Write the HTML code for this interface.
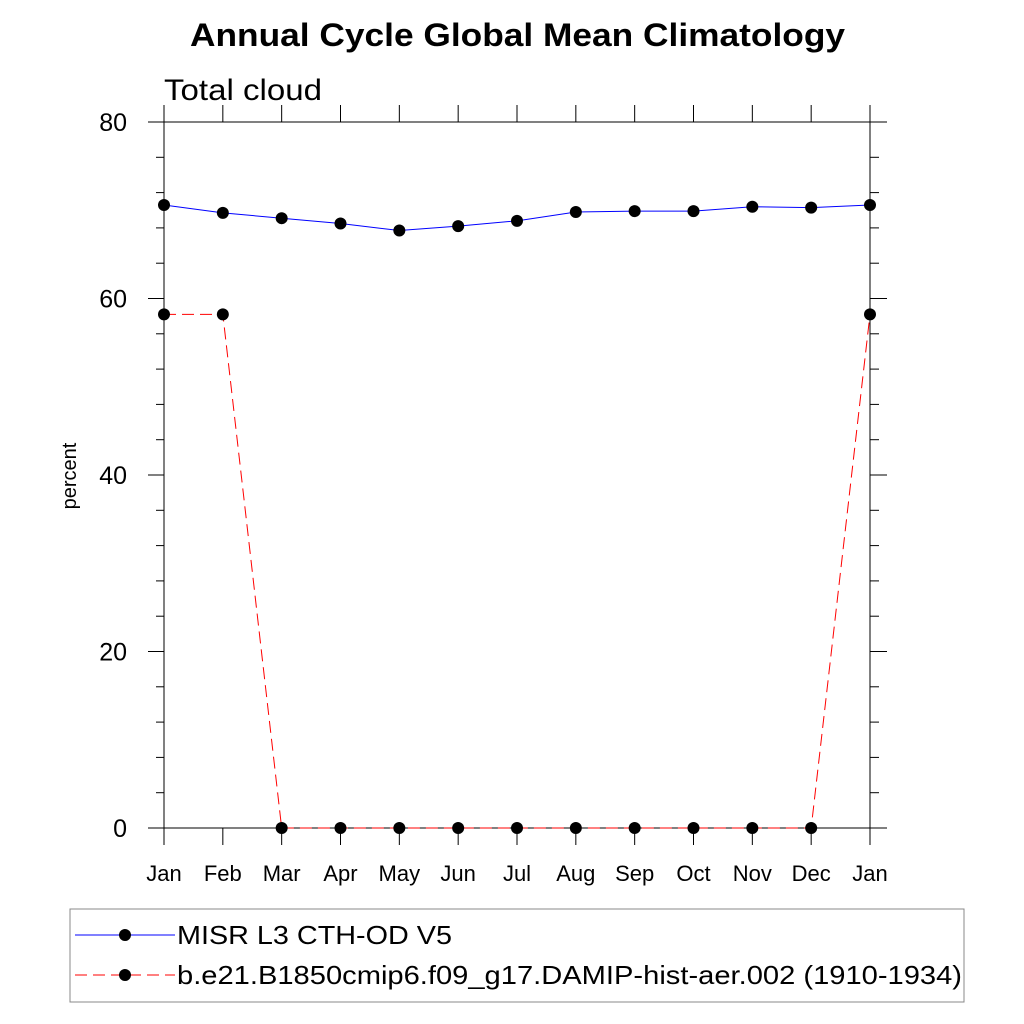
<!DOCTYPE html>
<html><head><meta charset="utf-8"><style>
body{margin:0;background:#fff;}
svg{display:block;font-family:"Liberation Sans",sans-serif;}
</style></head><body>
<svg id="chart" width="1024" height="1024" viewBox="0 0 1024 1024">
<text x="190" y="46" font-size="32" font-weight="bold" textLength="655" lengthAdjust="spacingAndGlyphs">Annual Cycle Global Mean Climatology</text>
<text x="164" y="100" font-size="30" textLength="158" lengthAdjust="spacingAndGlyphs">Total cloud</text>
<text transform="translate(76,476) rotate(-90)" text-anchor="middle" font-size="20">percent</text>
<g id="axes"></g>
<g id="series"></g>
<rect x="70" y="909" width="894" height="93" fill="none" stroke="#888" stroke-width="1"/>
<g>
<line x1="75" y1="935" x2="175" y2="935" stroke="#00f" stroke-width="1"/>
<circle cx="125" cy="935" r="6" fill="#000"/>
<text x="177" y="944" font-size="26" textLength="275" lengthAdjust="spacingAndGlyphs">MISR L3 CTH-OD V5</text>
</g>
<g>
<line x1="75" y1="975" x2="175" y2="975" stroke="#f00" stroke-width="1" stroke-dasharray="12,6"/>
<circle cx="125" cy="975" r="6" fill="#000"/>
<text x="177" y="984" font-size="26" textLength="785" lengthAdjust="spacingAndGlyphs">b.e21.B1850cmip6.f09_g17.DAMIP-hist-aer.002 (1910-1934)</text>
</g>
</svg>
<script>
const months=["Jan","Feb","Mar","Apr","May","Jun","Jul","Aug","Sep","Oct","Nov","Dec","Jan"];
const misr=[70.6,69.7,69.1,68.5,67.7,68.2,68.8,69.8,69.9,69.9,70.4,70.3,70.6];
const model=[58.2,58.2,0,0,0,0,0,0,0,0,0,0,58.2];
const yTicks=[0,20,40,60,80];
const NS="http://www.w3.org/2000/svg";
const X0=164,X1=870,Y0=828,Y1=122,YMAX=80;
const xs=i=>X0+(X1-X0)*i/(months.length-1);
const ys=v=>Y0-(Y0-Y1)*v/YMAX;
function mk(tag,attrs,parent){const e=document.createElementNS(NS,tag);for(const k in attrs)e.setAttribute(k,attrs[k]);parent.appendChild(e);return e;}
const ax=document.getElementById('axes');
const L={stroke:"#000","stroke-width":1};
mk('line',Object.assign({x1:X0,y1:Y0,x2:X1,y2:Y0},L),ax);
mk('line',Object.assign({x1:X0,y1:Y1,x2:X1,y2:Y1},L),ax);
mk('line',Object.assign({x1:X0,y1:Y1,x2:X0,y2:Y0},L),ax);
mk('line',Object.assign({x1:X1,y1:Y1,x2:X1,y2:Y0},L),ax);
months.forEach((m,i)=>{
  const x=xs(i);
  mk('line',Object.assign({x1:x,y1:Y0,x2:x,y2:Y0+17},L),ax);
  mk('line',Object.assign({x1:x,y1:Y1,x2:x,y2:Y1-17},L),ax);
  const t=mk('text',{x:x,y:881,"text-anchor":"middle","font-size":22},ax);
  
  
  t.textContent=m;
});
for(let v=0;v<=YMAX;v+=4){
  const y=ys(v);const major=v%20===0;
  mk('line',Object.assign({x1:X0,y1:y,x2:X0-(major?16:8),y2:y},L),ax);
  mk('line',Object.assign({x1:X1,y1:y,x2:X1+(major?17:9),y2:y},L),ax);
}
yTicks.forEach(v=>{
  const t=mk('text',{x:127,y:ys(v)+9,"text-anchor":"end","font-size":25},ax);
  
  
  t.textContent=v;
});
const sg=document.getElementById('series');
function draw(vals,color,dash,name){
  const g=mk('g',{},sg);
  
  
  const p=mk('polyline',{points:vals.map((v,i)=>xs(i)+','+ys(v)).join(' '),fill:"none",stroke:color,"stroke-width":1},g);
  if(dash)p.setAttribute('stroke-dasharray',dash);
  vals.forEach((v,i)=>{
    const c=mk('circle',{cx:xs(i),cy:ys(v),r:6,fill:"#000"},g);
    
    
  });
}
draw(model,"#f00","12,6","series-model");
draw(misr,"#00f",null,"series-misr");
</script>
</body></html>
